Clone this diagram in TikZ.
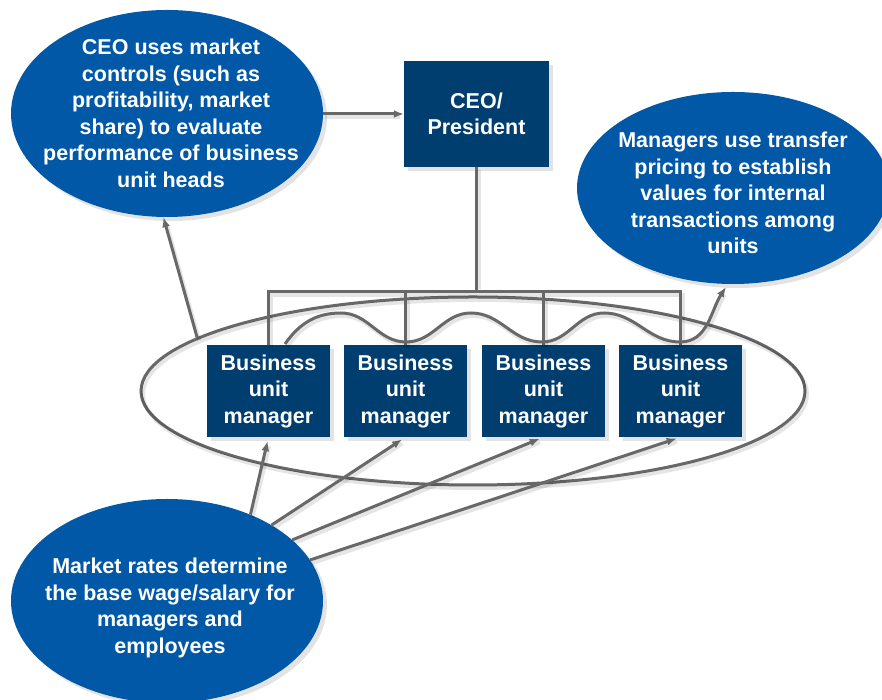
\documentclass[tikz,border=0pt]{standalone}
\usepackage{fontspec}
\setmainfont{Liberation Sans}
\usetikzlibrary{shapes.geometric,arrows.meta,shadows}
\definecolor{blobblue}{RGB}{0,88,166}
\definecolor{unitnavy}{RGB}{0,62,112}
\definecolor{linkgray}{RGB}{104,104,104}

\begin{document}
\begin{tikzpicture}[x=1pt,y=1pt,
  labelfont/.style={font=\bfseries\fontsize{21.5}{26.5}\selectfont},
  softshadow/.style={drop shadow={shadow xshift=4pt,shadow yshift=-4pt,opacity=0.22}},
  blob/.style={ellipse,fill=blobblue,draw=none,inner sep=0pt,softshadow},
  blobtext/.style={labelfont,text=white,align=center,inner sep=0pt},
  unitbox/.style={rectangle,fill=unitnavy,inner sep=0pt,labelfont,text=white,
    align=center,softshadow},
  linkshade/.style={preaction={draw=black,draw opacity=0.10,line width=4pt,
    arrows=-,shorten >=6pt,transform canvas={shift={(2pt,-3pt)}}}},
  link/.style={draw=linkgray,line width=3pt},
  arr/.style={link,-{Latex[length=10pt,width=8pt]}},
]
\useasboundingbox (0,0) rectangle (882,700);
\clip (0,0) rectangle (882,700);

% ring around the business units
\node[ellipse,draw=linkgray,line width=3pt,minimum width=664pt,
      minimum height=188pt,inner sep=0pt] (ring) at (473,309) {};
\draw[draw=black,draw opacity=0.10,line width=4pt] (475,306) ellipse[x radius=332pt,y radius=94pt];

% callouts
\node[blob,minimum width=312pt,minimum height=207pt] (ctrl) at (167,586.5) {};
\node[blobtext] at (171,586.5) {CEO uses market\\controls (such as\\profitability, market\\share) to evaluate\\performance of business\\unit heads};

\node[blob,minimum width=312pt,minimum height=192pt] (xfer) at (733,512) {};
\node[blobtext] at (733,507) {Managers use transfer\\pricing to establish\\values for internal\\transactions among\\units};

\node[blob,minimum width=312pt,minimum height=204pt] (wage) at (167,99) {};
\node[blobtext] at (170,92) {Market rates determine\\the base wage/salary for\\managers and\\employees};

% hierarchy
\node[unitbox,minimum width=145pt,minimum height=106pt] (ceo) at (476.5,586) {CEO/\\President};

\foreach \n/\x in {b1/268.5,b2/405.5,b3/543.5,b4/680.5}
  \node[unitbox,minimum width=123pt,minimum height=92pt] (\n) at (\x,309) {Business\\unit\\manager};

\coordinate (bar) at (0,408);
\draw[link,linkshade] (ceo.south) -- (ceo.south |- bar);
\draw[link,linkshade] (b1.north) -- (b1.north |- bar) -- (b4.north |- bar) -- (b4.north);
\draw[link,linkshade] (b2.north) -- (b2.north |- bar);
\draw[link,linkshade] (b3.north) -- (b3.north |- bar);

% transfer pricing flow between units
\coordinate (wstart) at (285,356);
\coordinate (wend) at (726,413);
\draw[arr,linkshade] (wstart) to[out=55,in=180] (341,387) to[out=0,in=180] (406,358)
  to[out=0,in=180] (471,387) to[out=0,in=180] (542,358)
  to[out=0,in=180] (604,387) to[out=0,in=180] (680,358)
  to[out=0,in=237] (wend);

% arrows
\draw[arr,linkshade] (ctrl.east |- ceo.west) -- (ceo.west);
\draw[arr,linkshade] (ring.169.4) -- (ctrl.268.5);
\draw[arr,linkshade,shorten >=4pt] (wage.46) -- (b1.south);
\draw[arr,linkshade,shorten >=4pt] (wage.36) -- (b2.south);
\draw[arr,linkshade,shorten >=4pt] (wage.26.4) -- (b3.south);
\draw[arr,linkshade,shorten >=4pt] (wage.16.7) -- (b4.south);
\end{tikzpicture}
\end{document}
